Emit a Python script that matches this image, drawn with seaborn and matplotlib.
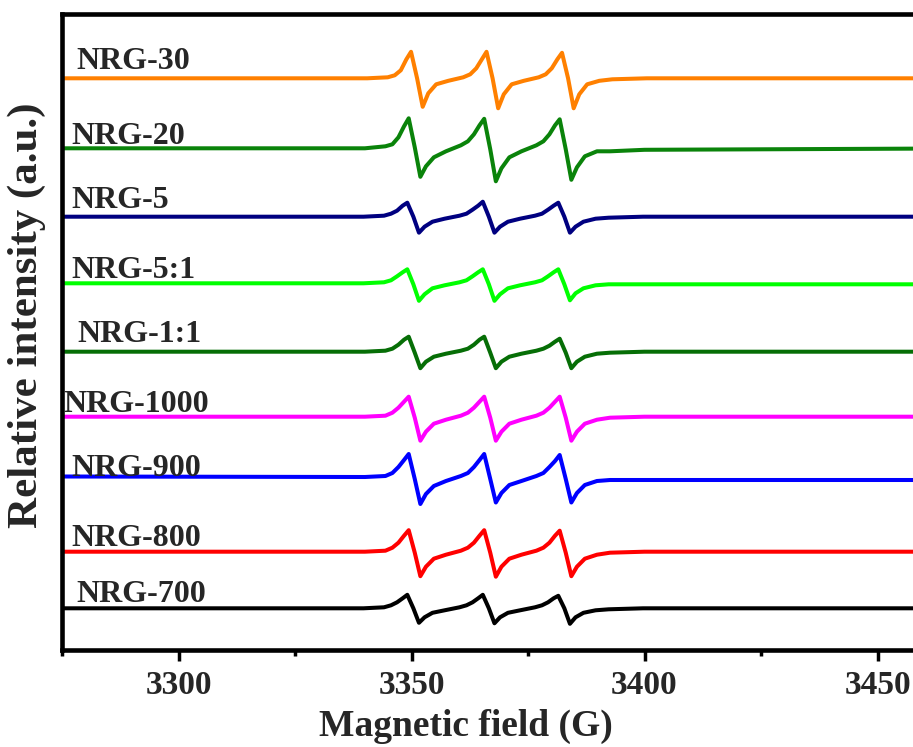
import numpy as np
import pandas as pd
import matplotlib
matplotlib.use("Agg")
import matplotlib.pyplot as plt
from matplotlib.ticker import MultipleLocator
import seaborn as sns

# Magnetic field sampling points (G): flat wings plus the three hyperfine lines
field = [3275, 3340,
         3344.4, 3345.9, 3347.2, 3348.4, 3349.4, 3350.7, 3351.9, 3353.1, 3354.8, 3357.4,
         3360.6, 3362.1, 3363.4, 3364.6, 3365.6, 3366.9, 3368.1, 3369.3, 3371.0, 3373.6,
         3376.8, 3378.3, 3379.6, 3380.8, 3381.8, 3383.1, 3384.3, 3385.5, 3387.2, 3389.8, 3392.6,
         3400, 3475]

# First-derivative EPR signal of each sample (a.u., relative to its own baseline)
nrg_30 = [0, 0,
          1, 3, 8, 19, 26.5, 0, -28.5, -15, -6, -2.5,
          1, 4, 10, 19, 26.5, 0, -30, -16, -6, -2.5,
          1, 4, 10, 19, 25.5, 0, -30, -16, -6, -2.5, -1,
          0, 0]
nrg_20 = [0, 0,
          2, 4, 11, 22, 30, 1, -28.5, -18, -9, -3,
          3, 7, 14, 23, 29.5, -1, -33, -20, -9, -3,
          3, 7, 14, 23, 29, -1, -31.5, -19, -8, -3, -3,
          -1.5, 0]
nrg_5 = [0, 0,
         1, 3, 6, 11, 14, 0, -16, -10, -5, -2,
         1, 3, 7, 11, 15, 0, -16, -10, -5, -2,
         1, 3, 7, 11, 14, 0, -16, -10, -5, -2, -1,
         0, 0]
nrg_5_1 = [0, 0,
           1, 3, 7, 11, 14, -1, -17.5, -11, -5, -2,
           1, 3, 7, 11, 14, -1, -17.5, -11, -5, -2,
           1, 3, 7, 11, 14, -1, -17, -10, -5, -2, -1,
           -1, -1]
nrg_1_1 = [0, 0,
           1, 3, 7, 12, 15, -1, -16.5, -10, -5, -2,
           1, 3, 7, 12, 15, -1, -16.5, -10, -5, -2,
           1, 3, 6, 10, 13, -1, -16.5, -10, -5, -2, -1,
           0, 0]
nrg_1000 = [0, 0,
            1, 4, 9, 15, 20, -1, -24, -15, -7, -3,
            1, 4, 9, 15, 20, -1, -24, -15, -7, -3,
            1, 4, 9, 15, 20, -1, -24, -15, -7, -3, -1,
            0, 0]
nrg_900 = [1.5, 1,
           2, 5, 11, 18, 24, -1, -26, -16, -8, -3,
           2, 5, 11, 18, 24, -1, -24.5, -15, -7, -3,
           2, 5, 11, 17, 23, -1, -24.5, -15, -7, -3, -2,
           -2, -2]
nrg_800 = [0, 0,
           1, 4, 9, 16, 21.5, -1, -24.5, -15, -7, -3,
           1, 4, 9, 16, 21.5, -1, -25, -15, -7, -3,
           1, 4, 9, 16, 21, -1, -24.5, -15, -7, -3, -1,
           0, 0]
nrg_700 = [0, 0,
           1, 3, 6, 10, 13.5, 0, -14.5, -9, -4.5, -2,
           1, 3, 6, 10, 13.5, 0, -15, -9, -4.5, -2,
           1, 3, 6, 10, 12.5, 0, -15.5, -9, -4.5, -2, -1,
           0, 0]

samples = ["NRG-30", "NRG-20", "NRG-5", "NRG-5:1", "NRG-1:1",
           "NRG-1000", "NRG-900", "NRG-800", "NRG-700"]
spectra = [nrg_30, nrg_20, nrg_5, nrg_5_1, nrg_1_1,
           nrg_1000, nrg_900, nrg_800, nrg_700]
# vertical stacking offsets (a.u.) and small field corrections (G)
baselines = [571.2, 501.2, 432.8, 366.2, 297.8, 232.8, 171.5, 97.8, 41.2]
field_shift = [0.5, 0.0, -0.3, -0.3, 0.0, 0.0, 0.0, 0.0, -0.3]
colors = ["#FF8000", "#0A830A", "#000080", "#00FF00", "#066E06",
          "#FF00FF", "#0000FF", "#FF0000", "#000000"]

# label anchors: field (G) of the left edge, signal level of the text baseline
label_x = [3278.0, 3277.1, 3277.1, 3277.1, 3278.4, 3275.2, 3277.1, 3277.1, 3278.0]
label_y = [580.5, 505.5, 442.0, 371.0, 308.0, 238.0, 173.0, 103.0, 47.5]

sns.set_theme(style="white")
plt.rcParams["font.family"] = ["Liberation Serif", "DejaVu Serif"]
plt.rcParams["font.weight"] = "bold"

frames = []
for name, vals, base, shift in zip(samples, spectra, baselines, field_shift):
    frames.append(pd.DataFrame({
        "field": np.asarray(field, dtype=float) + shift,
        "signal": base + np.asarray(vals, dtype=float),
        "sample": name,
    }))
df = pd.concat(frames, ignore_index=True)

fig = plt.figure(figsize=(9.13, 7.47), dpi=100)
ax = fig.add_axes([62 / 913, 97.5 / 747, 932 / 913, 636 / 747])

sns.lineplot(data=df, x="field", y="signal", hue="sample", hue_order=samples,
             palette=colors, sort=False, estimator=None, linewidth=2.9,
             legend=False, ax=ax)

for name, lx, ly in zip(samples, label_x, label_y):
    ax.text(lx, ly, name, fontsize=23, fontweight="bold", ha="left", va="baseline")

ax.set_xlim(3275, 3475)
ax.set_ylim(0, 636)
ax.set_xlabel("")
ax.set_ylabel("")
ax.set_yticks([])
ax.xaxis.set_major_locator(MultipleLocator(50))
ax.xaxis.set_minor_locator(MultipleLocator(25))
ax.tick_params(axis="x", which="major", direction="out", length=8, width=2.5,
               labelsize=24, pad=7, color="black", bottom=True)
ax.tick_params(axis="x", which="minor", direction="out", length=4.5, width=2.5,
               color="black", bottom=True)
for lab in ax.get_xticklabels():
    lab.set_fontweight("bold")
for sp in ax.spines.values():
    sp.set_linewidth(3.3)
    sp.set_color("black")

fig.text(27 / 913, 1 - 315 / 747, "Relative intensity (a.u.)", rotation=90,
         ha="center", va="center", fontsize=31, fontweight="bold")
fig.text(466 / 913, 1 - 726 / 747, "Magnetic field (G)",
         ha="center", va="center", fontsize=27, fontweight="bold")

fig.savefig("out.png", dpi=100)
